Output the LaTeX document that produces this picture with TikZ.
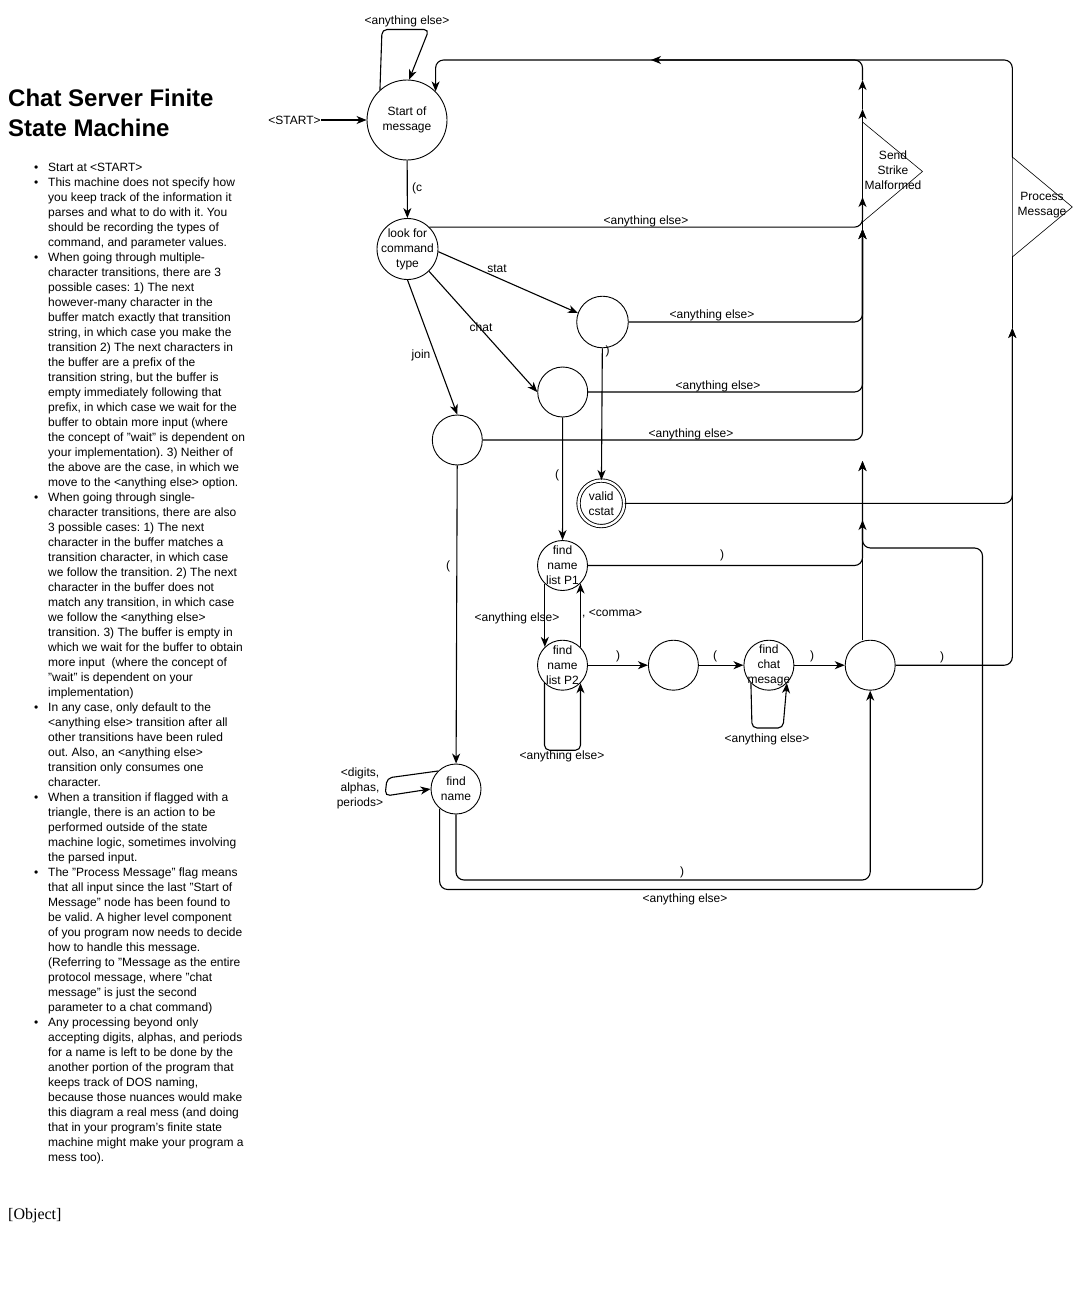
\documentclass[tikz,border=0pt]{standalone}
\usepackage{fontspec}
\setmainfont{Liberation Sans}
\newfontfamily\objfont{Liberation Serif}
\usetikzlibrary{arrows.meta, positioning}
\frenchspacing

\begin{document}
\begin{tikzpicture}[
      x=1pt, y=-1pt,
      font=\fontsize{12}{15}\selectfont,
      state/.style={circle, draw, line width=0.9pt, minimum size=50pt, inner sep=-6pt, align=center},
      accept/.style={state, double, double distance=2.4pt, minimum size=45.6pt},
      edge/.style={-{Stealth[length=10pt, width=8pt, inset=3pt]}, line width=1.1pt, rounded corners=8pt},
      loopy/.style={edge, rounded corners=5pt},
      bus/.style={line width=1.1pt, rounded corners=8pt},
      flag/.style={draw, line width=0.6pt},
      lbl/.style={inner sep=0pt, align=center}
    ]
    \fill[white] (0,0) rectangle (1075,1314);
    \useasboundingbox (0,0) rectangle (1075,1314);

    % notes on the left
    \node[anchor=base west, inner sep=0pt, font=\fontsize{24}{30}\selectfont\bfseries] (title) at (8,106.6)
      {\begin{tabular}[t]{@{}l@{}}Chat Server Finite\\State Machine\end{tabular}};
    \node[anchor=base west, inner sep=0pt] (notes) at (34,171) {\begin{tabular}[t]{@{}l@{\hspace{9.8pt}}l@{}}
      \textbullet & Start at <START>\\
      \textbullet & This machine does not specify how\\
      & you keep track of the information it\\
      & parses and what to do with it. You\\
      & should be recording the types of\\
      & command, and parameter values.\\
      \textbullet & When going through multiple-\\
      & character transitions, there are 3\\
      & possible cases: 1) The next\\
      & however-many character in the\\
      & buffer match exactly that transition\\
      & string, in which case you make the\\
      & transition 2) The next characters in\\
      & the buffer are a prefix of the\\
      & transition string, but the buffer is\\
      & empty immediately following that\\
      & prefix, in which case we wait for the\\
      & buffer to obtain more input (where\\
      & the concept of "wait" is dependent on\\
      & your implementation). 3) Neither of\\
      & the above are the case, in which we\\
      & move to the <anything else> option.\\
      \textbullet & When going through single-\\
      & character transitions, there are also\\
      & 3 possible cases: 1) The next\\
      & character in the buffer matches a\\
      & transition character, in which case\\
      & we follow the transition. 2) The next\\
      & character in the buffer does not\\
      & match any transition, in which case\\
      & we follow the <anything else>\\
      & transition. 3) The buffer is empty in\\
      & which we wait for the buffer to obtain\\
      & more input\ \ (where the concept of\\
      & "wait" is dependent on your\\
      & implementation)\\
      \textbullet & In any case, only default to the\\
      & <anything else> transition after all\\
      & other transitions have been ruled\\
      & out. Also, an <anything else>\\
      & transition only consumes one\\
      & character.\\
      \textbullet & When a transition if flagged with a\\
      & triangle, there is an action to be\\
      & performed outside of the state\\
      & machine logic, sometimes involving\\
      & the parsed input.\\
      \textbullet & The "Process Message" flag means\\
      & that all input since the last "Start of\\
      & Message" node has been found to\\
      & be valid. A higher level component\\
      & of you program now needs to decide\\
      & how to handle this message.\\
      & (Referring to "Message as the entire\\
      & protocol message, where "chat\\
      & message" is just the second\\
      & parameter to a chat command)\\
      \textbullet & Any processing beyond only\\
      & accepting digits, alphas, and periods\\
      & for a name is left to be done by the\\
      & another portion of the program that\\
      & keeps track of DOS naming,\\
      & because those nuances would make\\
      & this diagram a real mess (and doing\\
      & that in your program's finite state\\
      & machine might make your program a\\
      & mess too).
    \end{tabular}};
    \node[anchor=base west, inner sep=0pt, font=\objfont\fontsize{16}{19}\selectfont] (obj) at (8,1219) {[Object]};

    % states
    \node[state, minimum size=80pt] (start) at (407,120) {Start of\\message};
    \node[state, minimum size=61pt] (look) at (407.5,249) {look for\\command\\type};
    \node[state, minimum size=51.6pt] (stat) at (602.5,322) {};
    \node[state] (chat) at (562.7,392) {};
    \node[state] (join) at (457.3,440) {};
    \node[accept] (cstat) at (601.3,503.3) {valid\\cstat};
    \node[state] (p1) at (562.5,565.5) {find\\name\\list P1};
    \node[state, below=48.8pt of p1] (p2) {find\\name\\list P2};
    \node[state, right=60pt of p2] (paren) {};
    \node[state, right=44.6pt of paren] (msg) {find\\chat\\mesage};
    \node[state, right=50.4pt of msg] (done) {};
    \node[state] (fname) at (456,789) {find\\name};

    % flags
    \coordinate (ssmtop) at (862.5,122);
    \coordinate (ssmtip) at (922.5,171.5);
    \coordinate (ssmbot) at (862.5,222);
    \coordinate (pmtop) at (1012.3,157);
    \coordinate (pmtip) at (1072.3,207);
    \coordinate (pmbot) at (1012.3,257);
    \draw[flag] (ssmtop) -- (ssmtip) -- (ssmbot) -- cycle;
    \node[lbl] (ssm) at (893,170) {Send\\Strike\\Malformed};
    \draw[flag] (pmtop) -- (pmtip) -- (pmbot) -- cycle;
    \node[lbl] (pm) at (1042,205) {Process\\Message};

    % bus ends
    \coordinate (tipTop) at (651,60);
    \coordinate (tipS1) at (862.5,109);
    \coordinate (tipS2) at (862.5,80);
    \coordinate (tipLook) at (862.5,197);
    \coordinate (tipAny) at (862.5,229);
    \coordinate (tipMid) at (862.5,461);
    \coordinate (tipLow) at (862.5,520);
    \coordinate (tipPM) at (1012.3,328);
    \coordinate (loopR) at (982.5,548);
    \coordinate (rowlow) at (0,880);
    \coordinate (rowbot) at (0,889.5);

    % start
    \node[lbl] (entry) at (294.5,120) {<START>};
    \draw[edge] (entry.east) -- (start);
    \draw[loopy] (start.132) -- (382,29.5) -- (429,29.5) -- (start.87);
    \node[lbl] (startelse) at (407,21) {<anything else>};
    \draw[edge] (start) -- (look);
    \node[lbl] (cmd) at (417,188) {(c};

    % command type
    \draw[edge] (look.-5) -- (stat.160);
    \draw[edge] (look.-46) -- (chat.west);
    \draw[edge] (look.south) -- (join.north);
    \node[lbl] (statlbl) at (497,269) {stat};
    \node[lbl] (chatlbl) at (481,327) {chat};
    \node[lbl] (joinlbl) at (421,355) {join};
    \draw[edge] (stat) -- (cstat);
    \node[lbl] (statclose) at (607.5,351) {)};
    \draw[edge] (chat) -- (p1);
    \node[lbl] (chatopen) at (557,475) {(};
    \draw[edge] (join) -- (fname);
    \node[lbl] (joinopen) at (448,566) {(};

    % malformed returns
    \draw[edge] (look.north east) -| (tipLook);
    \node[lbl] (lookelse) at (646,221) {<anything else>};
    \foreach \s in {stat, chat, join}
      \draw[edge] (\s.east) -| (tipAny);
    \node[lbl] (statelse) at (712,315) {<anything else>};
    \node[lbl] (chatelse) at (718,386) {<anything else>};
    \node[lbl] (joinelse) at (691,434) {<anything else>};
    \draw[bus] (tipAny) -- (ssmbot);
    \draw[edge] (p1.east) -| (tipMid);
    \node[lbl] (p1close) at (722,555) {)};
    \draw[edge] (tipMid |- done.102) -- (tipMid);
    \draw[edge] (fname.230) |- (loopR |- rowbot) -- (loopR) -| (tipLow);
    \node[lbl] (fnelse) at (685,899) {<anything else>};
    \draw[edge] (ssmtop) -- (tipS1);
    \draw[edge] (tipS1) -- (tipS2);
    \draw[bus] (tipS2) |- (tipTop);

    % name list and chat message
    \draw[edge] (p1.226) -- (p2.134);
    \node[lbl] (p1else) at (517,618) {<anything else>};
    \draw[edge] (p2.45) -- (p1.315);
    \node[lbl, anchor=west] (comma) at (582,614) {, <comma>};
    \draw[loopy] (p2.225) -- ++(0,67) -| (p2.315);
    \node[lbl] (p2else) at (562,756) {<anything else>};
    \draw[edge] (p2) -- (paren);
    \node[lbl] (p2close) at (618,656) {)};
    \draw[edge] (paren) -- (msg);
    \node[lbl] (msgopen) at (715,656) {(};
    \draw[loopy] (msg.225) -- (752,728) -- (783,728) -- (msg.315);
    \node[lbl] (msgelse) at (767,739) {<anything else>};
    \draw[edge] (msg) -- (done);
    \node[lbl] (msgclose) at (812,656) {)};

    % find name
    \draw[loopy] (fname.135) -- (387,778) -- (385,796) -- (fname.west);
    \node[lbl] (digits) at (360,788) {<digits,\\alphas,\\periods>};
    \draw[edge] (fname.south) -- (fname.south |- rowlow) -| (done.south);
    \node[lbl] (fnclose) at (682,872) {)};

    % process message
    \draw[edge] (cstat.east) -| (tipPM);
    \draw[edge] (done.east) -| (tipPM);
    \node[lbl] (doneclose) at (942,657) {)};
    \draw[bus] (tipPM) -- (pmbot);
    \draw[edge] (pmtop) |- (tipTop);
    \draw[edge] (tipTop) -| (start.north east);
    \end{tikzpicture}
\end{document}
